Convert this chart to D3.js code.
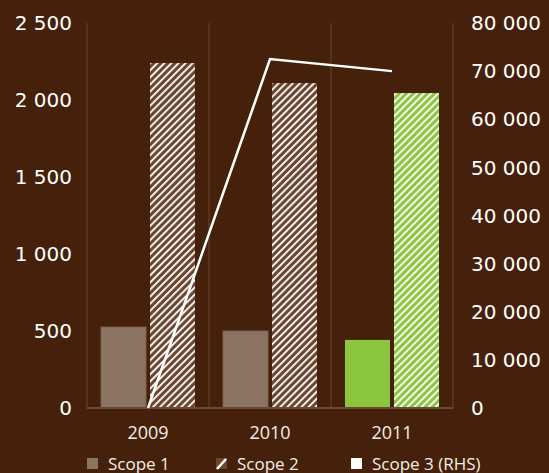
<!DOCTYPE html>
<html>
<head>
<meta charset="UTF-8">
<script src="https://d3js.org/d3.v7.min.js"></script>
<style>
    body { margin: 0; padding: 0; background: #45210b; }
    svg { display: block; }
    .tick-num { font-family: "DejaVu Sans", sans-serif; font-size: 20px; fill: #fff; }
    .cat { font-family: "Open Sans", sans-serif; font-size: 18px; fill: #f4ede6; }
    .leg { font-family: "Open Sans", sans-serif; font-size: 17px; fill: #f4ede6; }
</style>
</head>
<body>
<svg width="549" height="473"></svg>
<script>
// données
const years = ["2009", "2010", "2011"];
const scope1 = [526, 500, 442];
const scope2 = [2240, 2110, 2045];
const scope3 = [0, 72500, 70000];
const leftTicks = [0, 500, 1000, 1500, 2000, 2500];
const rightTicks = [0, 10000, 20000, 30000, 40000, 50000, 60000, 70000, 80000];
const legendLabels = ["Scope 1", "Scope 2", "Scope 3 (RHS)"];

const svg = d3.select("svg");
const plotL = 87, plotR = 453, plotT = 23, plotB = 408;

const x = d3.scaleBand().domain(years).range([plotL, plotR]);
const y = d3.scaleLinear().domain([0, 2500]).range([plotB, plotT]);
const y2 = d3.scaleLinear().domain([0, 80000]).range([plotB, plotT]);

const fmt = v => d3.format(",")(v).replace(/,/g, " ");

// motifs hachurés
const defs = svg.append("defs");
function hatch(id, bg) {
    const p = defs.append("pattern")
        .attr("id", id)
        .attr("patternUnits", "userSpaceOnUse")
        .attr("width", 5).attr("height", 5)
        .attr("patternTransform", "rotate(45)");
    p.append("rect").attr("width", 5).attr("height", 5).attr("fill", bg);
    p.append("rect").attr("x", 0).attr("width", 1.8).attr("height", 5).attr("fill", "#fff");
}
hatch("hatchBrown", "#6b4630");
hatch("hatchGreen", "#8cc63f");

// séparateurs verticaux
svg.append("g").selectAll("line")
    .data([plotL, x("2010"), x("2011"), plotR])
    .enter().append("line")
    .attr("x1", d => d).attr("x2", d => d)
    .attr("y1", plotT).attr("y2", plotB)
    .attr("stroke", "#5f3e28").attr("stroke-width", 1.2);

const barW = 45, gap = 4;
const groupOff = (x.bandwidth() - (2 * barW + gap)) / 2;

// Scope 1
svg.append("g").selectAll("rect")
    .data(scope1)
    .enter().append("rect")
    .attr("x", (d, i) => x(years[i]) + groupOff)
    .attr("y", d => y(d))
    .attr("width", barW)
    .attr("height", d => plotB - y(d))
    .attr("fill", (d, i) => years[i] === "2011" ? "#8cc63f" : "#8c7462")
    .attr("stroke", (d, i) => years[i] === "2011" ? "none" : "#7a604e")
    .attr("stroke-width", 1);

// Scope 2
svg.append("g").selectAll("rect")
    .data(scope2)
    .enter().append("rect")
    .attr("x", (d, i) => x(years[i]) + groupOff + barW + gap)
    .attr("y", d => y(d))
    .attr("width", barW)
    .attr("height", d => plotB - y(d))
    .attr("fill", (d, i) => years[i] === "2011" ? "url(#hatchGreen)" : "url(#hatchBrown)");

// axe du bas
svg.append("line")
    .attr("x1", plotL).attr("x2", plotR)
    .attr("y1", plotB).attr("y2", plotB)
    .attr("stroke", "#6b4a35").attr("stroke-width", 2);

// Scope 3 (RHS)
const line = d3.line()
    .x((d, i) => x(years[i]) + x.bandwidth() / 2)
    .y(d => y2(d));
svg.append("path")
    .datum(scope3)
    .attr("d", line)
    .attr("fill", "none")
    .attr("stroke", "#fff")
    .attr("stroke-width", 2.5);

// étiquettes axe gauche
svg.append("g").selectAll("text")
    .data(leftTicks)
    .enter().append("text")
    .attr("class", "tick-num")
    .attr("x", 72)
    .attr("y", d => y(d))
    .attr("dy", "0.36em")
    .attr("text-anchor", "end")
    .text(fmt);

// étiquettes axe droit
svg.append("g").selectAll("text")
    .data(rightTicks)
    .enter().append("text")
    .attr("class", "tick-num")
    .attr("x", 471)
    .attr("y", d => y2(d))
    .attr("dy", "0.36em")
    .text(fmt);

// catégories
svg.append("g").selectAll("text")
    .data(years)
    .enter().append("text")
    .attr("class", "cat")
    .attr("x", d => x(d) + x.bandwidth() / 2)
    .attr("y", 439)
    .attr("text-anchor", "middle")
    .text(d => d);

// légende
const legX = [87, 216, 351];
const leg = svg.append("g");
legendLabels.forEach((lab, i) => {
    const g = leg.append("g").attr("transform", `translate(${legX[i]},458)`);
    if (i === 1) {
        g.append("rect").attr("width", 11).attr("height", 11).attr("fill", "#6b4630");
        g.append("line").attr("x1", 1).attr("y1", 11).attr("x2", 10).attr("y2", 1)
            .attr("stroke", "#fff").attr("stroke-width", 2.5);
    } else {
        g.append("rect").attr("width", 11).attr("height", 11)
            .attr("fill", i === 0 ? "#8c7462" : "#fff");
    }
    g.append("text")
        .attr("class", "leg")
        .attr("x", 21)
        .attr("y", 11.5)
        .text(lab);
});
</script>
</body>
</html>
